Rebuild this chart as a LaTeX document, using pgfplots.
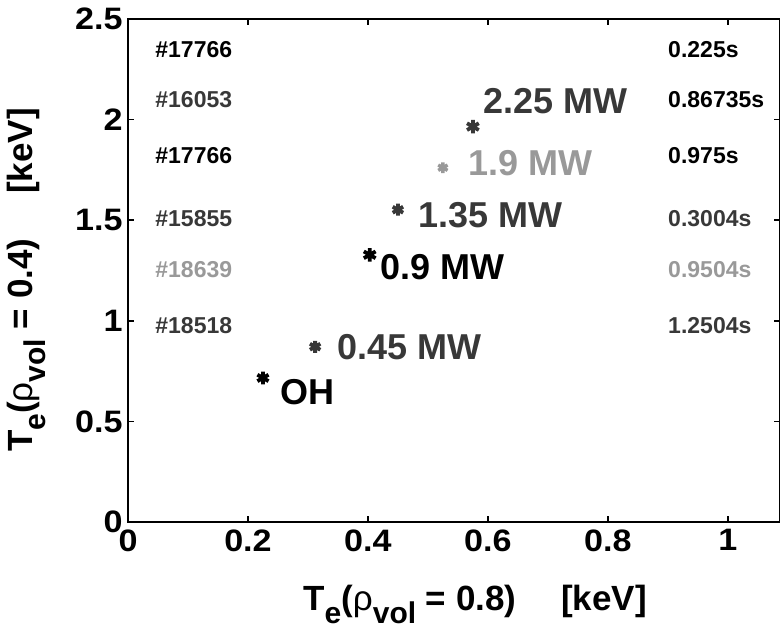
\documentclass[border=0pt]{standalone}
\usepackage{fontspec}
\setmainfont{Liberation Sans}
\newfontfamily\tickfont[FakeStretch=1.1]{Liberation Sans}
\usepackage{pgfplots}
\pgfplotsset{compat=1.18}
\definecolor{lg}{gray}{0.6}
\definecolor{dg}{gray}{0.22}
\newcommand\sub[1]{\raisebox{-6.5pt}{\fontsize{15}{15}\selectfont\bfseries #1}}
\begin{document}
\begin{tikzpicture}
\begin{axis}[
  scale only axis, width=326pt, height=251.5pt,
  xmin=0, xmax=1.087, ymin=0, ymax=2.5,
  xtick={0,0.2,0.4,0.6,0.8,1}, ytick={0,0.5,1,1.5,2,2.5},
  tick align=inside, major tick length=2.8pt,
  axis line style={line width=1pt},
  every tick/.style={line width=0.8pt, black},
  /pgf/number format/assume math mode=true,
  ticklabel style={font=\tickfont\bfseries\fontsize{15.5}{15.5}\selectfont},
  xticklabel style={inner sep=0pt, yshift=-3.5pt},
  yticklabel style={inner sep=0pt, xshift=-2.5pt},
  clip=false,
]
% data points
\addplot[only marks, mark=asterisk, mark size=3.2pt, line width=1.9pt, black] coordinates {(0.225,0.716)};
\addplot[only marks, mark=asterisk, mark size=3pt, line width=1.9pt, dg] coordinates {(0.312,0.871)};
\addplot[only marks, mark=asterisk, mark size=3.4pt, line width=1.9pt, black] coordinates {(0.403,1.328)};
\addplot[only marks, mark=asterisk, mark size=3pt, line width=1.9pt, dg] coordinates {(0.450,1.552)};
\addplot[only marks, mark=asterisk, mark size=2.7pt, line width=1.7pt, lg] coordinates {(0.525,1.761)};
\addplot[only marks, mark=asterisk, mark size=3.4pt, line width=1.9pt, dg] coordinates {(0.575,1.965)};
% point labels
\begin{scope}[every node/.style={anchor=west, inner sep=0pt, font=\bfseries\fontsize{18}{18}\selectfont}]
\node[text=dg] at (axis cs:0.592,2.09) {2.25 MW};
\node[text=lg] at (axis cs:0.567,1.786) {1.9 MW};
\node[text=dg] at (axis cs:0.483,1.527) {1.35 MW};
\node[text=black] at (axis cs:0.420,1.269) {0.9 MW};
\node[text=dg] at (axis cs:0.348,0.871) {0.45 MW};
\node[text=black] at (axis cs:0.253,0.647) {OH};
\end{scope}
% shot numbers and times
\begin{scope}[every node/.style={anchor=west, inner sep=0pt, font=\bfseries\fontsize{11.5}{11.5}\selectfont}]
\node[text=black] at (axis cs:0.045,2.35) {\#17766};
\node[text=dg] at (axis cs:0.045,2.10) {\#16053};
\node[text=black] at (axis cs:0.045,1.82) {\#17766};
\node[text=dg] at (axis cs:0.045,1.51) {\#15855};
\node[text=lg] at (axis cs:0.045,1.255) {\#18639};
\node[text=dg] at (axis cs:0.045,0.975) {\#18518};
\node[text=black] at (axis cs:0.9,2.35) {0.225s};
\node[text=black] at (axis cs:0.9,2.10) {0.86735s};
\node[text=black] at (axis cs:0.9,1.82) {0.975s};
\node[text=dg] at (axis cs:0.9,1.51) {0.3004s};
\node[text=lg] at (axis cs:0.9,1.255) {0.9504s};
\node[text=dg] at (axis cs:0.9,0.975) {1.2504s};
\end{scope}
% axis labels
\node[anchor=base, inner sep=0pt, font=\bfseries\fontsize{17.5}{17.5}\selectfont]
  at ([shift={(10.5pt,-44pt)}]rel axis cs:0.5,0)
  {T\sub{e}({\mdseries ρ}\sub{vol} = 0.8)\quad\ [keV]};
\node[anchor=base, rotate=90, inner sep=0pt, font=\bfseries\fontsize{17.5}{17.5}\selectfont]
  at ([shift={(-47.5pt,-4.75pt)}]rel axis cs:0,0.5)
  {T\sub{e}({\mdseries ρ}\sub{vol} = 0.4)\quad\ [keV]};
\coordinate (bl) at (rel axis cs:0,0);
\end{axis}
\pgfresetboundingbox
\path[use as bounding box] ([shift={(-64pt,-56pt)}]bl) rectangle ([shift={(326pt,261pt)}]bl);
\end{tikzpicture}
\end{document}
